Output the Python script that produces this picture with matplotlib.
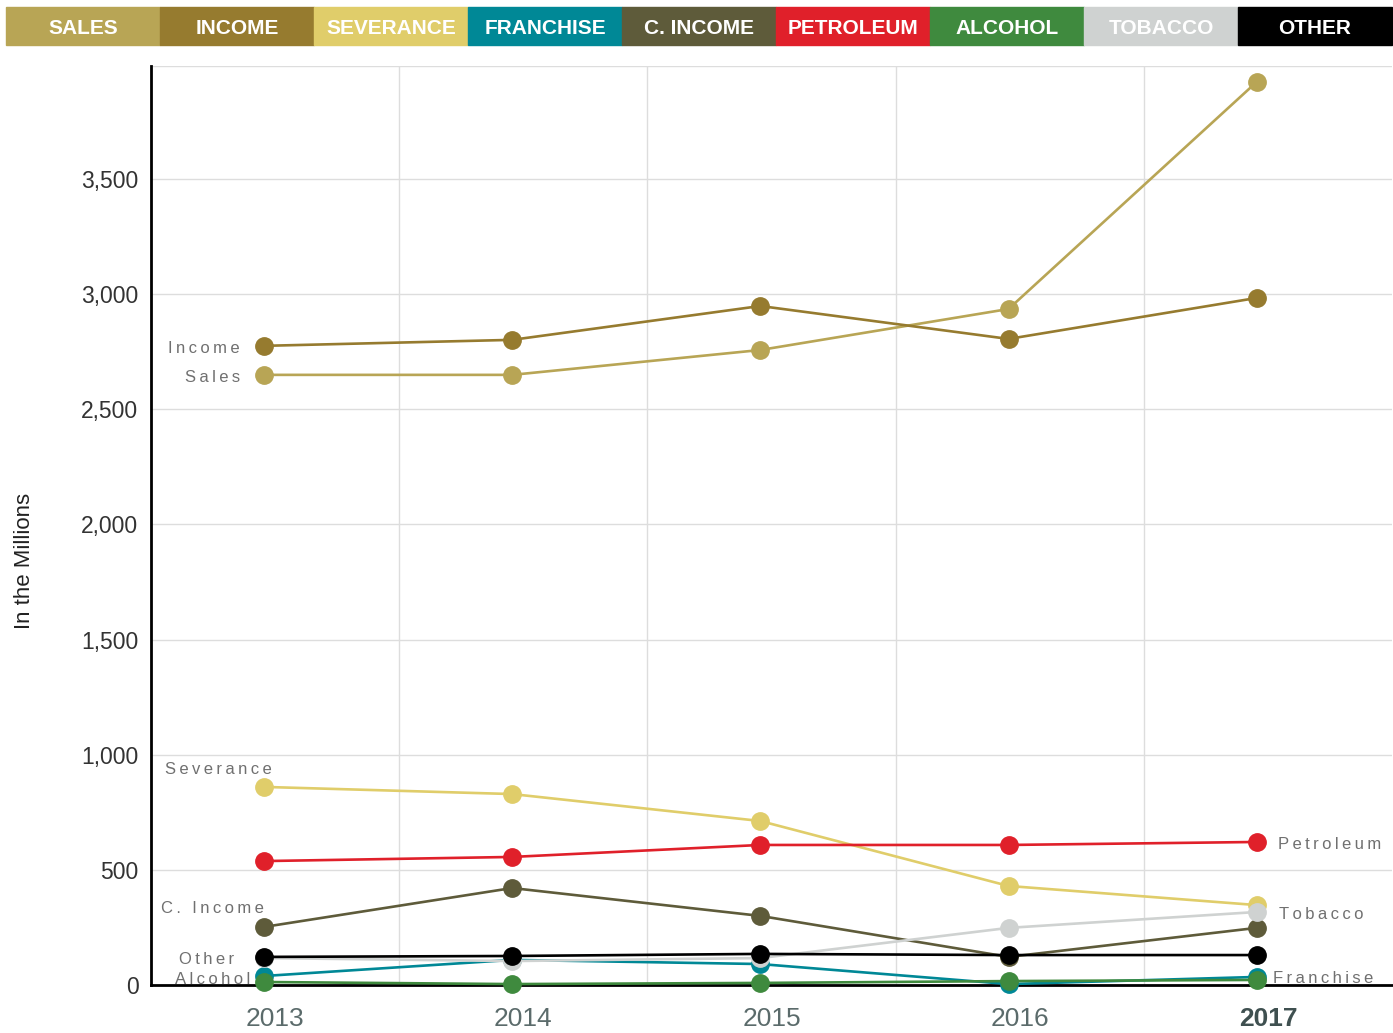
import matplotlib.pyplot as plt
from matplotlib.patches import Rectangle

# Data (in millions)
years = ['2013', '2014', '2015', '2016', '2017']

sales = [2649, 2649, 2757, 2935, 3921]
income = [2775, 2801, 2948, 2805, 2983]
severance = [860, 829, 712, 430, 347]
franchise = [39, 109, 91, 4, 35]
c_income = [252, 421, 300, 122, 248]
petroleum = [538, 556, 608, 608, 621]
alcohol = [13, 4, 9, 17, 22]
tobacco = [117, 104, 117, 248, 317]
other = [122, 126, 135, 130, 130]

legend_names = ['SALES', 'INCOME', 'SEVERANCE', 'FRANCHISE', 'C. INCOME',
                'PETROLEUM', 'ALCOHOL', 'TOBACCO', 'OTHER']
colors = {
    'SALES': '#B8A555', 'INCOME': '#967B2F', 'SEVERANCE': '#E0CD6A',
    'FRANCHISE': '#008896', 'C. INCOME': '#5E5B3A', 'PETROLEUM': '#E0202A',
    'ALCOHOL': '#3F8A3E', 'TOBACCO': '#CFD2D1', 'OTHER': '#000000',
}

# draw order (later on top)
series = [
    ('SALES', sales), ('INCOME', income), ('SEVERANCE', severance),
    ('PETROLEUM', petroleum), ('C. INCOME', c_income), ('FRANCHISE', franchise),
    ('TOBACCO', tobacco), ('ALCOHOL', alcohol), ('OTHER', other),
]

FONT = ['Liberation Sans', 'DejaVu Sans']
plt.rcParams['font.family'] = FONT


def spaced(s):
    return '\u2009'.join(s)


fig = plt.figure(figsize=(13.93, 10.33), dpi=100)
ax = fig.add_axes([151 / 1393, 48 / 1033, 1241 / 1393, 919 / 1033])

x = [i - 0.045 for i in range(len(years))]
for name, vals in series:
    ax.plot(x, vals, color=colors[name], lw=1.9, marker='o', markersize=12.5,
            clip_on=False, zorder=3)

YMAX = 3990
ax.set_xlim(-0.5, 4.5)
ax.set_ylim(0, YMAX)
ax.set_yticks(range(0, 4000, 500))
ax.set_yticklabels([f'{v:,}' for v in range(0, 4000, 500)], fontsize=16.5, color='#333333')
ax.set_xticks(range(len(years)))
ax.set_xticklabels(years, fontsize=19, color='#5B6B6B')
ax.get_xticklabels()[-1].set_fontweight('bold')
ax.get_xticklabels()[-1].set_color('#3F5050')
ax.tick_params(axis='both', length=0)
ax.tick_params(axis='x', pad=16)
ax.tick_params(axis='y', pad=9)

for b in [0.5, 1.5, 2.5, 3.5]:
    ax.axvline(b, color='#DDDDDD', lw=1, zorder=0)
for v in list(range(500, 4000, 500)) + [YMAX]:
    ax.axhline(v, color='#DDDDDD', lw=1, zorder=0)

for side in ['top', 'right']:
    ax.spines[side].set_visible(False)
ax.spines['left'].set_linewidth(2)
ax.spines['bottom'].set_linewidth(2)

ax.set_ylabel('In the Millions', fontsize=16, color='#222222')
ax.yaxis.set_label_coords(-0.0935, 0.461)

# series labels (small downward nudge to sit level with markers)
lab = dict(fontsize=12, color='#707070', family=FONT)
dy = -10
ax.text(-0.141, income[0] + dy, spaced('Income'), ha='right', va='center', **lab)
ax.text(-0.141, sales[0] + dy, spaced('Sales'), ha='right', va='center', **lab)
ax.text(-0.444, severance[0] + 85 + dy, spaced('Severance'), ha='left', va='center', **lab)
ax.text(-0.46, c_income[0] + 90 + dy, spaced('C. Income'), ha='left', va='center', **lab)
ax.text(-0.165, other[0] + dy, spaced('Other'), ha='right', va='center', **lab)
ax.text(-0.10, 35 + dy, spaced('Alcohol'), ha='right', va='center', **lab)
ax.text(4.04, petroleum[4] + dy, spaced('Petroleum'), ha='left', va='center', **lab)
ax.text(4.045, tobacco[4] + dy, spaced('Tobacco'), ha='left', va='center', **lab)
ax.text(4.02, 40 + dy, spaced('Franchise'), ha='left', va='center', **lab)

# legend bar at top
left, right = 6, 1392
w = (right - left) / len(legend_names)
for i, name in enumerate(legend_names):
    x0 = (left + i * w) / 1393
    fig.patches.append(Rectangle((x0, 1 - 45 / 1033), w / 1393, 38 / 1033,
                                 transform=fig.transFigure, color=colors[name],
                                 zorder=0))
    fig.text(x0 + w / 2 / 1393, 1 - 28 / 1033, name, ha='center', va='center',
             color='white', fontsize=15, fontweight='bold')

fig.savefig('out.png', dpi=100)
